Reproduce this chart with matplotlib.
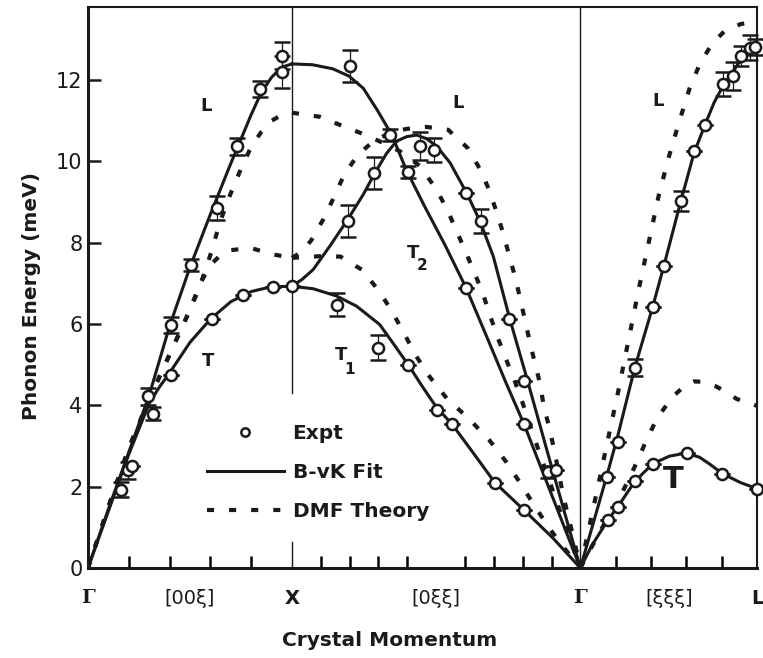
import numpy as np
import matplotlib
matplotlib.use("Agg")
import matplotlib.pyplot as plt
from matplotlib.lines import Line2D

# high-symmetry points along the path (reciprocal-space distance)
X_PT = 1.0
G_PT = 1.0 + np.sqrt(2.0)
L_PT = G_PT + np.sqrt(3.0) / 2.0

# ---- B-vK fit (solid) ----
fit_L1_x = [0, 0.1, 0.2, 0.3, 0.4, 0.5, 0.6, 0.7, 0.8, 0.85, 0.9, 0.95, 1.0]
fit_L1_y = [0, 1.45, 2.85, 4.25, 5.95, 7.4, 8.7, 9.95, 11.15, 11.7, 12.07, 12.32, 12.4]
fit_T1_x = [0, 0.1, 0.2, 0.3, 0.35, 0.4, 0.5, 0.6, 0.7, 0.8, 0.9, 1.0]
fit_T1_y = [0, 1.4, 2.8, 4.05, 4.45, 4.8, 5.55, 6.12, 6.55, 6.8, 6.92, 6.93]

fit_L2_x = [1.0, 1.1, 1.2, 1.28, 1.35, 1.42, 1.49, 1.56, 1.65, 1.75, 1.853, 1.95, 2.05,
            2.137, 2.25, 2.35, G_PT]
fit_L2_y = [12.4, 12.38, 12.28, 12.1, 11.8, 11.25, 10.65, 9.8, 8.9, 7.95, 6.9, 5.75, 4.55,
            3.55, 2.1, 0.82, 0]
fit_T2_x = [1.0, 1.05, 1.104, 1.186, 1.268, 1.35, 1.407, 1.464, 1.513, 1.562, 1.611, 1.66,
            1.709, 1.775, 1.856, 1.922, 1.987, 2.069, 2.15, 2.25, 2.35, G_PT]
fit_T2_y = [6.93, 7.1, 7.34, 7.92, 8.53, 9.19, 9.72, 10.2, 10.5, 10.61, 10.65, 10.56,
            10.38, 9.97, 9.23, 8.53, 7.67, 6.11, 4.7, 2.9, 1.13, 0]
fit_T1b_x = [1.0, 1.104, 1.219, 1.317, 1.43, 1.5, 1.57, 1.644, 1.709, 1.783, 1.889, 1.995,
             2.137, 2.281, G_PT]
fit_T1b_y = [6.93, 6.87, 6.69, 6.44, 5.99, 5.5, 5.0, 4.43, 3.95, 3.55, 2.83, 2.1,
             1.43, 0.73, 0]

fit_L3_x = [G_PT, 2.5, 2.543, 2.6, 2.681, 2.768, 2.824, 2.907, 2.971, 3.025, 3.07, 3.113,
            3.162, 3.2, 3.245, L_PT]
fit_L3_y = [0, 1.5, 2.25, 3.3, 4.93, 6.41, 7.44, 9.03, 10.2, 10.9, 11.45, 11.85,
            12.2, 12.5, 12.72, 12.84]
fit_T3_x = [G_PT, 2.47, 2.549, 2.597, 2.681, 2.768, 2.85, 2.935, 3.0, 3.05, 3.111, 3.2, L_PT]
fit_T3_y = [0, 0.55, 1.18, 1.5, 2.13, 2.56, 2.75, 2.83, 2.72, 2.55, 2.32, 2.1, 1.95]

# ---- DMF theory (dotted) ----
dmf_L1_x = [0, 0.1, 0.2, 0.3, 0.4, 0.5, 0.55, 0.6, 0.65, 0.7, 0.75, 0.8, 0.85, 0.9, 0.95, 1.0]
dmf_L1_y = [0, 1.5, 2.95, 4.15, 5.25, 6.35, 6.95, 7.7, 8.55, 9.22, 9.82, 10.36, 10.73, 11.0,
            11.15, 11.2]
dmf_T1_x = [0, 0.1, 0.2, 0.3, 0.4, 0.5, 0.55, 0.6, 0.65, 0.7, 0.8, 0.9, 1.0]
dmf_T1_y = [0, 1.5, 2.95, 4.15, 5.25, 6.35, 7.0, 7.45, 7.7, 7.82, 7.87, 7.72, 7.63]

dmf_L2_x = [1.0, 1.137, 1.24, 1.342, 1.428, 1.53, 1.627, 1.706, 1.761, 1.807, 1.85, 1.895,
            1.935, 1.97, 2.011, 2.052, 2.093, 2.131, 2.203, 2.3, G_PT]
dmf_L2_y = [11.2, 11.1, 10.89, 10.69, 10.5, 10.25, 9.89, 9.33, 8.82, 8.29, 7.8, 7.26,
            6.77, 6.23, 5.64, 5.11, 4.59, 4.06, 2.99, 1.6, 0]
dmf_T2_x = [1.0, 1.05, 1.096, 1.154, 1.203, 1.252, 1.32, 1.4, 1.48, 1.56, 1.66, 1.766, 1.864,
            1.922, 1.967, 2.003, 2.036, 2.065, 2.093, 2.118, 2.142, 2.167, 2.191, 2.216,
            2.235, 2.261, 2.284, 2.327, 2.35, 2.376, G_PT]
dmf_T2_y = [7.63, 7.78, 8.07, 8.58, 9.09, 9.63, 10.15, 10.5, 10.7, 10.8, 10.85, 10.78, 10.32,
            9.81, 9.3, 8.76, 8.23, 7.69, 7.18, 6.65, 6.11, 5.55, 5.04, 4.55,
            3.97, 3.47, 2.95, 1.86, 1.36, 0.84, 0]
dmf_T1b_x = [1.0, 1.137, 1.238, 1.342, 1.428, 1.493, 1.549, 1.608, 1.676, 1.761, 1.864,
             1.967, 2.049, 2.118, 2.183, 2.256, 2.322, G_PT]
dmf_T1b_y = [7.63, 7.67, 7.66, 7.34, 6.81, 6.29, 5.78, 5.22, 4.7, 4.16, 3.69,
             3.15, 2.62, 2.1, 1.58, 1.02, 0.57, 0]

dmf_L3_x = [G_PT, 2.5, 2.6, 2.7, 2.8, 2.85, 2.9, 2.95, 3.0, 3.06, 3.12, 3.2, L_PT]
dmf_L3_y = [0, 2.0, 4.35, 6.85, 9.2, 10.15, 11.0, 11.8, 12.4, 12.9, 13.2, 13.38, 13.45]
dmf_T3_x = [G_PT, 2.5, 2.55, 2.6, 2.642, 2.691, 2.735, 2.791, 2.866, 2.93, 2.971, 3.02,
            3.074, 3.13, 3.18, L_PT]
dmf_T3_y = [0, 0.8, 1.25, 1.65, 2.09, 2.6, 3.11, 3.69, 4.21, 4.5, 4.59, 4.58,
            4.48, 4.33, 4.16, 3.99]

# ---- experiment ----
expt_x = [0.16, 0.198, 0.214, 0.296, 0.317, 0.405, 0.405, 0.505, 0.606, 0.631, 0.729, 0.76,
          0.843, 0.907, 0.951, 0.951, 1.0,
          1.284, 1.48, 1.627, 1.696, 1.403, 1.569, 1.853, 1.925, 1.275, 1.853, 2.064,
          1.219, 1.422, 1.569, 1.711, 1.784, 1.995, 2.137, 2.137, 2.137, 2.256, 2.297,
          2.543, 2.597, 2.681, 2.768, 2.824, 2.907, 2.971, 3.025, 3.113, 3.162, 3.2, 3.245,
          3.27,
          2.549, 2.597, 2.681, 2.768, 2.935, 3.111, 3.28]
expt_y = [1.93, 2.4, 2.52, 4.22, 3.8, 5.98, 4.75, 7.45, 6.13, 8.85, 10.37, 6.72,
          11.78, 6.92, 12.6, 12.2, 6.93,
          12.35, 10.65, 10.38, 10.28, 9.72, 9.74, 9.23, 8.53, 8.53, 6.9, 6.13,
          6.48, 5.42, 5.0, 3.89, 3.55, 2.1, 1.43, 4.61, 3.55, 2.37, 2.41,
          2.25, 3.09, 4.93, 6.41, 7.44, 9.03, 10.26, 10.89, 11.9, 12.1, 12.6, 12.8,
          12.82,
          1.18, 1.5, 2.13, 2.56, 2.83, 2.32, 1.95]
expt_err = [0.18, 0.2, 0.0, 0.2, 0.15, 0.2, 0.0, 0.15, 0.0, 0.3, 0.2, 0.0,
            0.2, 0.0, 0.33, 0.4, 0.0,
            0.4, 0.15, 0.35, 0.3, 0.4, 0.15, 0.0, 0.3, 0.4, 0.0, 0.0,
            0.28, 0.3, 0.0, 0.0, 0.0, 0.0, 0.0, 0.0, 0.0, 0.15, 0.0,
            0.0, 0.0, 0.2, 0.0, 0.0, 0.25, 0.0, 0.0, 0.3, 0.35, 0.25, 0.3,
            0.2,
            0.0, 0.0, 0.0, 0.0, 0.0, 0.0, 0.0]

branch_labels = [("L", 0.58, 11.37, 13), ("T", 0.59, 5.08, 13), ("L", 1.815, 11.45, 13),
                 ("T", 1.595, 7.75, 13), ("T", 1.243, 5.25, 13), ("L", 2.796, 11.49, 13),
                 ("T", 2.87, 2.17, 22)]
sub_labels = [("2", 1.64, 7.43), ("1", 1.284, 4.88)]

INK = "#1a1a1a"
DOTS = (0, (1.7, 3.6))


def main():
    fig = plt.figure(figsize=(7.63, 6.58), dpi=100)
    ax = fig.add_axes([88 / 763, 1 - 568 / 658, (757 - 88) / 763, (568 - 7) / 658])

    dmf_sets = [(dmf_L1_x, dmf_L1_y), (dmf_T1_x, dmf_T1_y), (dmf_L2_x, dmf_L2_y),
                (dmf_T2_x, dmf_T2_y), (dmf_T1b_x, dmf_T1b_y), (dmf_L3_x, dmf_L3_y),
                (dmf_T3_x, dmf_T3_y)]
    for xs, ys in dmf_sets:
        ax.plot(xs, ys, color=INK, lw=3.0, linestyle=DOTS, dash_capstyle="butt", zorder=2)

    fit_sets = [(fit_L1_x, fit_L1_y), (fit_T1_x, fit_T1_y), (fit_L2_x, fit_L2_y),
                (fit_T2_x, fit_T2_y), (fit_T1b_x, fit_T1b_y), (fit_L3_x, fit_L3_y),
                (fit_T3_x, fit_T3_y)]
    for xs, ys in fit_sets:
        ax.plot(xs, ys, color=INK, lw=2.2, solid_joinstyle="round", zorder=3)

    ax.errorbar(expt_x, expt_y, yerr=expt_err, fmt="o", ms=8, mfc="white", mec=INK,
                mew=1.8, ecolor=INK, elinewidth=0.9, capsize=6, capthick=0.9,
                zorder=4, clip_on=False)

    # symmetry-point lines
    ax.plot([X_PT, X_PT], [4.3, 13.8], color=INK, lw=1.0, zorder=1)
    ax.plot([X_PT, X_PT], [0, 0.65], color=INK, lw=1.0, zorder=1)
    ax.axvline(G_PT, color=INK, lw=1.0, zorder=1)

    for txt, x, y, fs in branch_labels:
        ax.text(x, y, txt, fontsize=fs, fontweight="bold", color=INK,
                ha="center", va="center")
    for txt, x, y in sub_labels:
        ax.text(x, y, txt, fontsize=11, fontweight="bold", color=INK,
                ha="center", va="center")

    ax.set_xlim(0, L_PT)
    ax.set_ylim(0, 13.8)
    ax.set_yticks([0, 2, 4, 6, 8, 10, 12])
    ax.tick_params(axis="y", direction="in", length=9, width=1.8, labelsize=15,
                   pad=4, colors=INK)

    lab_pos = [0, 0.5, X_PT, X_PT + np.sqrt(2) / 2, G_PT, G_PT + np.sqrt(3) / 4, L_PT]
    lab_txt = ["\u0393", "[00\u03be]", "X", "[0\u03be\u03be]", "\u0393",
               "[\u03be\u03be\u03be]", "L"]
    ax.set_xticks(lab_pos)
    ax.set_xticklabels(lab_txt)
    ax.tick_params(axis="x", which="major", length=0, pad=15, labelsize=14, colors=INK)
    for t in ax.get_xticklabels():
        if t.get_text() == "\u0393":
            t.set_fontfamily("DejaVu Serif")
            t.set_fontweight("bold")
        elif t.get_text() in ("X", "L"):
            t.set_fontweight("bold")

    minor = list(np.linspace(0, X_PT, 6)[1:]) + list(np.linspace(X_PT, G_PT, 11)[1:]) \
        + list(np.linspace(G_PT, L_PT, 6)[1:-1])
    ax.set_xticks(minor, minor=True)
    ax.tick_params(axis="x", which="minor", direction="in", length=9, width=1.8)

    for side in ["left", "bottom"]:
        ax.spines[side].set_linewidth(2.2)
    for side in ["top", "right"]:
        ax.spines[side].set_linewidth(1.5)
    for sp in ax.spines.values():
        sp.set_color(INK)

    handles = [
        Line2D([], [], marker="o", ms=6, mfc="white", mec=INK, mew=1.8, ls="none"),
        Line2D([], [], color=INK, lw=2.2),
        Line2D([], [], color=INK, lw=3.0, linestyle=DOTS, dash_capstyle="butt"),
    ]
    ax.legend(handles, ["Expt", "B-vK Fit", "DMF Theory"], loc="upper left",
              bbox_to_anchor=(207 / 763, 1 - 424 / 658), bbox_transform=fig.transFigure,
              frameon=False, borderpad=0, borderaxespad=0, handlelength=3.8,
              handletextpad=0.45, labelspacing=1.0,
              prop={"size": 14.5, "weight": "bold"}, labelcolor=INK)

    fig.text(390 / 763, 1 - 640 / 658, "Crystal Momentum", fontsize=14.5,
             fontweight="bold", color=INK, ha="center", va="center")
    fig.text(32 / 763, 1 - 296 / 658, "Phonon Energy (meV)", fontsize=14.5,
             fontweight="bold", color=INK, ha="center", va="center", rotation=90)

    fig.savefig("out.png", dpi=100, facecolor="white")


if __name__ == "__main__":
    main()
